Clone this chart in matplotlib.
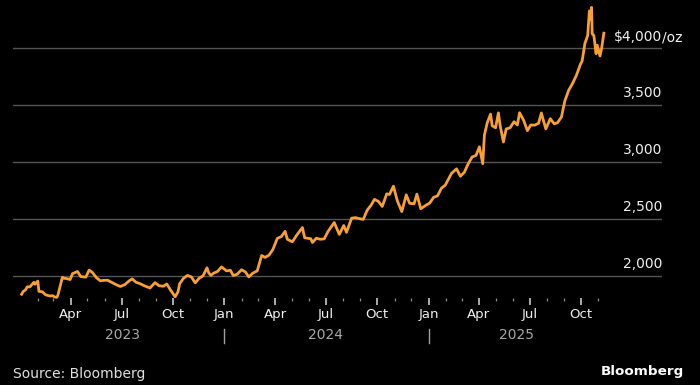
import numpy as np
import pandas as pd
import matplotlib
matplotlib.use('Agg')
import matplotlib.pyplot as plt
import matplotlib.dates as mdates
import matplotlib.transforms as mtrans

# Gold spot price, USD per troy ounce
dates = [
    '2023-01-03', '2023-01-06', '2023-01-10', '2023-01-13', '2023-01-18', '2023-01-25',
    '2023-01-27', '2023-02-01', '2023-02-03', '2023-02-09', '2023-02-15', '2023-02-22',
    '2023-02-28', '2023-03-03', '2023-03-07', '2023-03-09', '2023-03-13', '2023-03-17',
    '2023-03-20', '2023-03-24', '2023-03-31', '2023-04-04', '2023-04-13', '2023-04-19',
    '2023-04-28', '2023-05-04', '2023-05-10', '2023-05-17', '2023-05-24', '2023-05-31',
    '2023-06-06', '2023-06-14', '2023-06-23', '2023-06-29', '2023-07-07', '2023-07-14',
    '2023-07-20', '2023-07-27', '2023-08-03', '2023-08-11', '2023-08-21', '2023-08-30',
    '2023-09-06', '2023-09-14', '2023-09-20', '2023-09-27', '2023-10-05', '2023-10-10',
    '2023-10-13', '2023-10-20', '2023-10-27', '2023-11-03', '2023-11-10', '2023-11-17',
    '2023-11-24', '2023-12-01', '2023-12-04', '2023-12-08', '2023-12-13', '2023-12-20',
    '2023-12-27',
    '2024-01-05', '2024-01-12', '2024-01-17', '2024-01-24', '2024-02-01', '2024-02-08',
    '2024-02-14', '2024-02-21', '2024-02-29', '2024-03-05', '2024-03-08', '2024-03-14',
    '2024-03-21', '2024-03-28', '2024-04-05', '2024-04-12', '2024-04-19', '2024-04-23',
    '2024-05-02', '2024-05-10', '2024-05-20', '2024-05-24', '2024-06-04', '2024-06-07',
    '2024-06-14', '2024-06-21', '2024-06-28', '2024-07-05', '2024-07-16', '2024-07-25',
    '2024-08-02', '2024-08-07', '2024-08-16', '2024-08-23', '2024-08-30', '2024-09-06',
    '2024-09-13', '2024-09-20', '2024-09-26', '2024-10-03', '2024-10-10', '2024-10-18',
    '2024-10-23', '2024-10-30', '2024-11-06', '2024-11-14', '2024-11-22', '2024-11-28',
    '2024-12-06', '2024-12-11', '2024-12-18', '2024-12-27',
    '2025-01-03', '2025-01-10', '2025-01-17', '2025-01-24', '2025-01-31', '2025-02-07',
    '2025-02-11', '2025-02-20', '2025-02-27', '2025-03-06', '2025-03-13', '2025-03-20',
    '2025-03-27', '2025-04-02', '2025-04-08', '2025-04-11', '2025-04-16', '2025-04-22',
    '2025-04-25', '2025-05-01', '2025-05-06', '2025-05-09', '2025-05-15', '2025-05-20',
    '2025-05-27', '2025-06-03', '2025-06-09', '2025-06-13', '2025-06-20', '2025-06-27',
    '2025-07-03', '2025-07-10', '2025-07-17', '2025-07-22', '2025-07-30', '2025-08-07',
    '2025-08-14', '2025-08-20', '2025-08-27', '2025-09-02', '2025-09-09', '2025-09-16',
    '2025-09-23', '2025-09-30', '2025-10-03', '2025-10-08', '2025-10-13', '2025-10-16',
    '2025-10-17', '2025-10-20', '2025-10-21', '2025-10-24', '2025-10-28', '2025-10-30',
    '2025-11-04', '2025-11-07', '2025-11-11',
]
prices = [
    1840, 1865, 1878, 1905, 1905, 1945,
    1928, 1955, 1865, 1862, 1835, 1825,
    1827, 1816, 1813, 1832, 1912, 1988,
    1980, 1978, 1969, 2020, 2040, 1995,
    1990, 2052, 2030, 1985, 1958, 1962,
    1963, 1943, 1920, 1908, 1925, 1955,
    1975, 1945, 1933, 1914, 1895, 1942,
    1915, 1910, 1930, 1875, 1818, 1860,
    1932, 1980, 2005, 1992, 1940, 1980,
    2002, 2072, 2030, 2005, 2025, 2040,
    2080,
    2045, 2050, 2005, 2015, 2055, 2035,
    1992, 2025, 2045, 2128, 2180, 2163,
    2182, 2232, 2330, 2345, 2392, 2322,
    2300, 2360, 2425, 2335, 2327, 2294,
    2332, 2322, 2326, 2392, 2469, 2365,
    2443, 2383, 2507, 2512, 2503, 2497,
    2577, 2621, 2672, 2655, 2610, 2721,
    2715, 2788, 2659, 2565, 2712, 2638,
    2633, 2718, 2590, 2620,
    2640, 2690, 2703, 2770, 2798, 2862,
    2900, 2940, 2875, 2910, 2985, 3044,
    3058, 3133, 2985, 3237, 3343, 3420,
    3318, 3300, 3431, 3325, 3175, 3290,
    3300, 3353, 3325, 3432, 3368, 3275,
    3325, 3323, 3340, 3430, 3290, 3380,
    3335, 3345, 3395, 3535, 3630, 3690,
    3763, 3858, 3885, 4040, 4110, 4325,
    4252, 4356, 4125, 4110, 3950, 4025,
    3930, 4000, 4130,
]

month_labels = ['Apr', 'Jul', 'Oct', 'Jan', 'Apr', 'Jul', 'Oct', 'Jan', 'Apr', 'Jul', 'Oct']
year_labels = ['2023', '2024', '2025']
y_levels = [2000, 2500, 3000, 3500, 4000]

x = pd.to_datetime(dates)

# pixel layout of the reference
W, H = 700, 385
px_per_day = (581 - 20.5) / 1004
jan1 = pd.Timestamp('2023-01-01')
x_left = jan1 - pd.Timedelta(days=(20.5 - 13) / px_per_day)
x_right = jan1 + pd.Timedelta(days=(662 - 20.5) / px_per_day)
usd_per_px = 500 / 57
y_bottom = 4000 - (298 - 48) * usd_per_px
y_top = 4000 + 48 * usd_per_px

fig = plt.figure(figsize=(7, 3.85), dpi=100, facecolor='black')
ax = fig.add_axes([13 / W, 1 - 298 / H, (662 - 13) / W, 298 / H])
ax.set_facecolor('black')

for v in y_levels:
    ax.axhline(v, color='#555555', lw=1.0, zorder=1)

ax.plot(x, prices, color='#F8A035', lw=2.0, zorder=3, clip_on=False,
        solid_joinstyle='round')

ax.set_xlim(x_left, x_right)
ax.set_ylim(y_bottom, y_top)
for s in ax.spines.values():
    s.set_visible(False)
ax.set_yticks([])

major = pd.date_range('2023-04-01', '2025-10-01', freq='QS')
minor = [d for d in pd.date_range('2023-02-01', '2025-11-01', freq='MS') if d not in major]
ax.set_xticks(major)
ax.set_xticklabels(month_labels)
ax.set_xticks(minor, minor=True)
ax.tick_params(axis='x', which='major', length=5, width=1.2, color='#c8c8c8',
               labelcolor='#f0f0f0', labelsize=9.5, pad=2)
ax.tick_params(axis='x', which='minor', length=2.3, width=0.9, color='#8a8a8a')

# year labels and separators
bt = mtrans.blended_transform_factory(ax.transData, ax.transAxes)
year_mid = [pd.Timestamp('2023-07-02'), pd.Timestamp('2024-07-01'), pd.Timestamp('2025-06-07')]
for d, lab in zip(year_mid, year_labels):
    ax.text(d, (298 - 335) / 298, lab, transform=bt, ha='center', va='center',
            color='#a8a8a8', fontsize=10)
for d in [pd.Timestamp('2024-01-01'), pd.Timestamp('2025-01-01')]:
    ax.plot([d, d], [(298 - 329) / 298, (298 - 343) / 298], transform=bt,
            color='#a0a0a0', lw=1.0, clip_on=False)

# y labels sitting on the gridlines, right side
yt = mtrans.blended_transform_factory(ax.transAxes, ax.transData)
for v in y_levels:
    if v == 4000:
        ax.text(1.0, v + 7 * usd_per_px, r'\$4,000', transform=yt, ha='right',
                va='baseline', color='#f0f0f0', fontsize=10)
        ax.text(1.0, v + 7 * usd_per_px, '/oz', transform=yt, ha='left',
                va='baseline', color='#f0f0f0', fontsize=10)
    else:
        ax.text(1.0, v + 8 * usd_per_px, f'{v:,}', transform=yt, ha='right',
                va='baseline', color='#f0f0f0', fontsize=10)

fig.text(13 / W, 1 - 374 / H, 'Source: Bloomberg', ha='left', va='center',
         color='#e0e0e0', fontsize=10)
fig.text(684 / W, 1 - 372 / H, 'Bloomberg', ha='right', va='center',
         color='white', fontsize=9.7, fontweight='bold')

fig.savefig('out.png', dpi=100, facecolor='black')
